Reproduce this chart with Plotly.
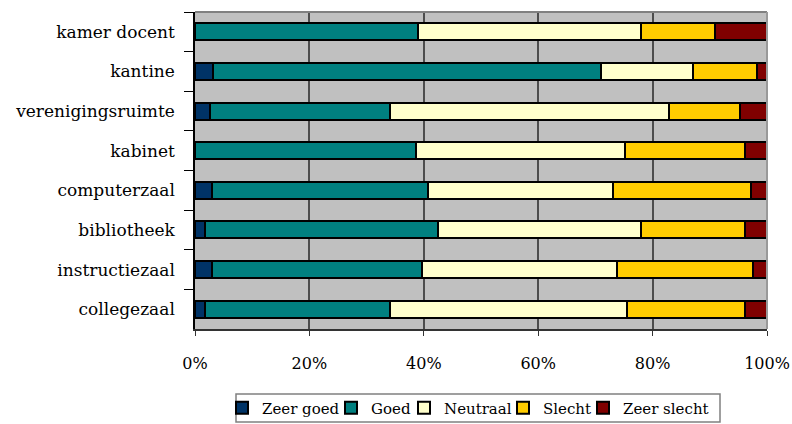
import plotly.graph_objects as go

categories = ["kamer docent", "kantine", "verenigingsruimte", "kabinet",
              "computerzaal", "bibliotheek", "instructiezaal", "collegezaal"]
series_names = ["Zeer goed", "Goed", "Neutraal", "Slecht", "Zeer slecht"]
zeer_goed = [0.0, 3.2, 2.6, 0.0, 2.9, 1.7, 2.9, 1.7]
goed = [38.9, 67.7, 31.5, 38.6, 37.9, 40.8, 36.8, 32.4]
neutraal = [39.0, 16.1, 48.8, 36.6, 32.3, 35.5, 34.0, 41.4]
slecht = [13.0, 11.3, 12.3, 21.0, 24.1, 18.2, 23.8, 20.7]
zeer_slecht = [9.1, 1.7, 4.8, 3.8, 2.8, 3.8, 2.5, 3.8]
x_ticks = [0, 20, 40, 60, 80, 100]
x_ticklabels = ["0%", "20%", "40%", "60%", "80%", "100%"]

colors = ["#003366", "#008080", "#FFFFCC", "#FFCC00", "#800000"]
values = [zeer_goed, goed, neutraal, slecht, zeer_slecht]

FONT = "DejaVu Serif"

# plot-area geometry (pixels)
L, R, T, B = 195, 25, 12, 95
W, H = 792, 424
PW = W - L - R
PH = H - T - B

def px_x(px):
    return (px - L) / PW

def px_y(py):
    return (H - B - py) / PH

legend_names = ["legend", "legend2", "legend3", "legend4", "legend5"]
legend_left_px = [222, 331, 404, 503, 583]

fig = go.Figure()
for name, vals, col, lg in zip(series_names, values, colors, legend_names):
    fig.add_trace(go.Bar(
        y=categories, x=vals, name=name, orientation="h", legend=lg,
        marker=dict(color=col, line=dict(color="black", width=2)),
    ))

layout_legends = {}
for lg, lpx in zip(legend_names, legend_left_px):
    layout_legends[lg] = dict(
        orientation="h", x=px_x(lpx), xanchor="left",
        y=px_y(408), yanchor="middle",
        borderwidth=0, bgcolor="rgba(0,0,0,0)",
        font=dict(family=FONT, size=15, color="black"),
        itemwidth=30,
    )

fig.update_layout(
    barmode="stack",
    bargap=0.57,
    width=W, height=H,
    margin=dict(l=L, r=R, t=T, b=B, autoexpand=False),
    paper_bgcolor="white",
    plot_bgcolor="#C0C0C0",
    font=dict(family=FONT, color="black"),
    showlegend=True,
    xaxis=dict(
        range=[0, 100], tickvals=x_ticks, ticktext=x_ticklabels,
        showgrid=True, gridcolor="#4d4d4d", gridwidth=1.5,
        showline=True, linecolor="#333333", linewidth=1.5,
        ticks="outside", ticklen=5, tickcolor="#333333",
        tickfont=dict(family=FONT, size=16, color="black"),
        ticklabelstandoff=14, zeroline=False, fixedrange=True,
        automargin=False,
    ),
    yaxis=dict(
        autorange="reversed", showgrid=False,
        showline=True, linecolor="black", linewidth=1.5,
        ticks="outside", ticklen=9, tickcolor="black", tickson="boundaries",
        tickfont=dict(family=FONT, size=17, color="black"),
        ticklabelstandoff=15, fixedrange=True, automargin=False,
    ),
    shapes=[
        dict(type="line", xref="paper", yref="paper", x0=0, x1=1, y0=1, y1=1,
             line=dict(color="#808080", width=2), layer="above"),
        dict(type="line", xref="paper", yref="paper", x0=1, x1=1, y0=0, y1=1,
             line=dict(color="#999999", width=2), layer="above"),
        dict(type="rect", xref="paper", yref="paper",
             x0=px_x(236), x1=px_x(720), y0=px_y(394), y1=px_y(422),
             line=dict(color="#808080", width=1.5), fillcolor="rgba(0,0,0,0)"),
    ],
    **layout_legends,
)

fig.write_html(
    "out.html",
    config={"displayModeBar": False, "staticPlot": False},
    post_script="document.body.style.margin='0';document.body.style.padding='0';",
)
